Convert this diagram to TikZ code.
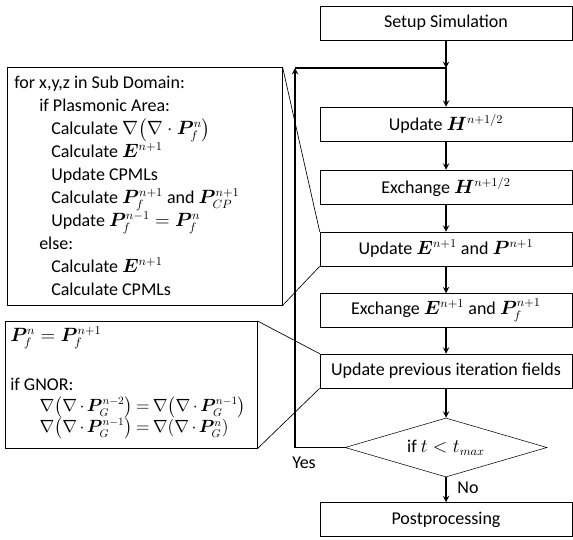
\documentclass[tikz,border=0pt]{standalone}
\usepackage{amsmath,bm}
\usepackage{fontspec}
\setmainfont{Carlito}
\usetikzlibrary{arrows,shapes,positioning}

\newcommand{\gnoreq}[1]{\scalebox{0.92}{$\medmuskip=2.5mu\thickmuskip=3.5mu #1$}}

\tikzset{
  stepbox/.style={draw, minimum width=189pt, minimum height=25.5pt, inner sep=0pt},
  decision/.style={draw, diamond, aspect=3.4, minimum width=151.5pt, minimum height=44.25pt, inner sep=0pt},
  flow/.style={->, >=stealth, line width=1.1pt},
  callout/.style={draw, anchor=north west, inner sep=0pt},
  callouttext/.style={anchor=north west, align=left, inner sep=0pt},
  zoomline/.style={line width=0.5pt}
}

\begin{document}
\begin{tikzpicture}[x=0.75pt, y=-0.75pt, every node/.style={font=\fontsize{13.5}{17.25}\selectfont}]
  \useasboundingbox (0,0) rectangle (573,539);
% Main loop
  \node[stepbox] (setup) at (446,23) {Setup Simulation};
  \node[stepbox] (updH) at (446,124) {Update $\bm{H}^{n+1/2}$};
  \node[stepbox] (exchH) at (446,187) {Exchange $\bm{H}^{n+1/2}$};
  \node[stepbox] (updE) at (446,249) {Update $\bm{E}^{n+1}$ and $\bm{P}^{n+1}$};
  \node[stepbox] (exchE) at (446,310.5) {Exchange $\bm{E}^{n+1}$ and $\bm{P}_f^{n+1}$};
  \node[stepbox] (prev) at (446,371) {Update previous iteration fields};
  \node[decision] (cond) at (446,447.5) {if $t<t_{max}$};
  \node[stepbox] (post) at (446,519.5) {Postprocessing};
  \coordinate (join) at (446,68);
  \coordinate (corner) at (295,68);
%
  \draw[flow] (setup) -- (join);
  \draw[flow] (cond.west) -| (corner);
  \draw[flow] (corner) -- (join) -- (updH);
  \draw[flow] (updH) -- (exchH);
  \draw[flow] (exchH) -- (updE);
  \draw[flow] (updE) -- (exchE);
  \draw[flow] (exchE) -- (prev);
  \draw[flow] (prev) -- (cond);
  \draw[flow] (cond) -- (post);
  \node (yes) at (304,463) {Yes};
  \node (no) at (468,488) {No};
% Update E details
  \node[callout, minimum width=206.25pt, minimum height=178.5pt] (detE) at (7,67) {};
  \node[callouttext] (detEtext) at (14,76) {%
    for x,y,z in Sub Domain:\\
    \hspace*{18.75pt}if Plasmonic Area:\\
    \hspace*{27.75pt}Calculate $\nabla\bigl(\nabla\cdot\bm{P}_f^n\bigr)$\\
    \hspace*{27.75pt}Calculate $\bm{E}^{n+1}$\\
    \hspace*{27.75pt}Update CPMLs\\
    \hspace*{27.75pt}Calculate $\bm{P}_f^{n+1}$ and $\bm{P}_{CP}^{n+1}$\\
    \hspace*{27.75pt}Update $\bm{P}_f^{n-1}=\bm{P}_f^n$\\
    \hspace*{18.75pt}else:\\
    \hspace*{27.75pt}Calculate $\bm{E}^{n+1}$\\
    \hspace*{27.75pt}Calculate CPMLs};
  \draw[zoomline] (detE.north east) -- (updE.north west);
  \draw[zoomline] (detE.south east) -- (updE.south west);
% Previous fields details
  \node[callout, minimum width=189pt, minimum height=95.25pt] (detP) at (5,321) {};
  \node[callouttext] (detPtext) at (10,326) {%
    $\bm{P}_f^n=\bm{P}_f^{n+1}$\\[19pt]
    if GNOR:\\[-1pt]
    \hspace*{22pt}\gnoreq{\nabla\bigl(\nabla\cdot\bm{P}_G^{n-2}\bigr)=\nabla\bigl(\nabla\cdot\bm{P}_G^{n-1}\bigr)}\\[-1.5pt]
    \hspace*{22pt}\gnoreq{\nabla\bigl(\nabla\cdot\bm{P}_G^{n-1}\bigr)=\nabla(\nabla\cdot\bm{P}_G^{n})}};
  \draw[zoomline] (detP.north east) -- (prev.north west);
  \draw[zoomline] (detP.south east) -- (prev.south west);
\end{tikzpicture}
\end{document}
